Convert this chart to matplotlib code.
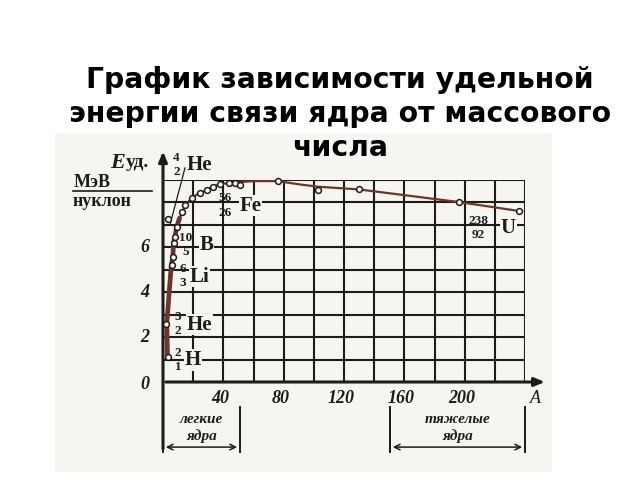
import numpy as np
import matplotlib
matplotlib.use("Agg")
import matplotlib.pyplot as plt
from matplotlib.patches import Rectangle

# curve (mass number A, energy per nucleon, MeV)
curve_A = [3, 2.5, 5.5, 6.5, 7, 8, 9, 11, 13, 15, 19, 24, 29, 33, 38, 44, 49, 60, 76, 91, 103, 130, 196, 236]
curve_E = [1.1, 2.6, 5.2, 5.55, 6.2, 6.5, 6.9, 7.3, 7.6, 7.9, 8.2, 8.42, 8.55, 8.7, 8.82, 8.87, 8.9, 8.95, 8.95, 8.8, 8.7, 8.58, 8.02, 7.62]

# measured points (open circles)
pts_A = [3, 2.2, 3.5, 6, 6.6, 7.2, 8, 9.3, 12.6, 14.6, 19, 24.5, 29, 33, 38, 44, 48, 51, 76, 103, 130, 196, 236]
pts_E = [1.1, 2.6, 7.25, 5.2, 5.57, 6.2, 6.46, 6.9, 7.58, 7.9, 8.2, 8.42, 8.55, 8.7, 8.82, 8.87, 8.87, 8.78, 8.96, 8.56, 8.6, 8.02, 7.62]

xtick_vals = [40, 80, 120, 160, 200]
ytick_vals = [0, 2, 4, 6]

# nuclide labels: (mass, charge, symbol, A of numbers, A of symbol, E)
nuclides = [
    ("4", "2", "He", 9, 24, 9.67),
    ("56", "26", "Fe", 41, 58, 7.85),
    ("10", "5", "B", 15, 29, 6.1),
    ("6", "3", "Li", 13, 24, 4.7),
    ("3", "2", "He", 10, 24, 2.55),
    ("2", "1", "H", 10, 20, 0.98),
    ("238", "92", "U", 209, 229, 6.85),
]

title_lines = ["График зависимости удельной", "энергии связи ядра от массового", "числа"]

ink = "#1e1c1a"
curve_col = "#6e3528"
paper = "#f6f5ef"
serif = "Liberation Serif"

fig = plt.figure(figsize=(6.4, 4.8), dpi=100)
fig.patch.set_facecolor("white")

# the scanned picture area
bgax = fig.add_axes([0, 0, 1, 1], zorder=-10)
bgax.set_xlim(0, 640)
bgax.set_ylim(480, 0)
bgax.axis("off")
bgax.add_patch(Rectangle((55, 133), 497, 339, facecolor=paper, edgecolor="none"))

ax = fig.add_axes([163 / 640, 98 / 480, 362 / 640, 202 / 480], zorder=0)
ax.set_xlim(0, 240)
ax.set_ylim(0, 9)
ax.set_facecolor("none")
for s in ax.spines.values():
    s.set_visible(False)
ax.set_xticks([])
ax.set_yticks([])

# grid
ax.vlines(np.arange(20, 241, 20), 0, 9, color=ink, lw=1.5, zorder=1)
ax.hlines(np.arange(1, 10, 1), 0, 240, color=ink, lw=1.5, zorder=1)

# axes with arrows
ax.annotate("", xy=(0, 10.4), xytext=(0, -3.1), xycoords="data",
            arrowprops=dict(arrowstyle="-|>,head_width=0.25,head_length=0.6", color=ink, lw=2.2),
            annotation_clip=False)
ax.annotate("", xy=(255, 0), xytext=(0, 0), xycoords="data",
            arrowprops=dict(arrowstyle="-|>,head_width=0.25,head_length=0.6", color=ink, lw=2.2),
            annotation_clip=False)

# curve
ax.plot(curve_A[:8], curve_E[:8], color=curve_col, lw=3.4, zorder=3, solid_capstyle="round")
ax.plot(curve_A[7:], curve_E[7:], color=curve_col, lw=1.6, zorder=3)
ax.plot(pts_A, pts_E, "o", ms=4.2, mfc="white", mec=ink, mew=1.1, ls="none", zorder=4, clip_on=False)

# pointer from the He-4 label
ax.plot([14.6, 4.6], [9.54, 7.0], color=ink, lw=0.9, zorder=3, clip_on=False)

bg = dict(facecolor=paper, edgecolor="none", pad=0.5)
for mass, charge, sym, a_num, a_sym, e in nuclides:
    ax.text(a_sym, e, sym, fontsize=15, family=serif, fontweight="bold", color=ink,
            ha="center", va="center", zorder=5, bbox=bg, clip_on=False)
    ax.text(a_num, e + 0.33, mass, fontsize=9.5, family=serif, fontweight="bold", color=ink,
            ha="center", va="center", zorder=5, clip_on=False)
    ax.text(a_num, e - 0.3, charge, fontsize=9.5, family=serif, fontweight="bold", color=ink,
            ha="center", va="center", zorder=5, clip_on=False)

# tick labels
for v in ytick_vals:
    ax.text(-12, v - (0.12 if v == 0 else 0), str(v), fontsize=13, family=serif,
            fontweight="bold", style="italic", ha="center", va="center", color=ink, clip_on=False)
for v in xtick_vals:
    ax.text(v - 2, -0.72, str(v), fontsize=13, family=serif,
            fontweight="bold", style="italic", ha="center", va="center", color=ink, clip_on=False)
ax.text(247, -0.72, "A", fontsize=13, family=serif, style="italic",
        ha="center", va="center", color=ink, clip_on=False)

# y axis caption
ax.text(-25, 9.76, "E", fontsize=16, family=serif, fontweight="bold",
        style="italic", ha="right", va="center", color=ink, clip_on=False)
ax.text(-25, 9.76, "уд.", fontsize=14, family=serif, fontweight="bold",
        ha="left", va="center", color=ink, clip_on=False)
ax.text(-59, 8.87, "МэВ", fontsize=13, family=serif, fontweight="bold",
        ha="left", va="center", color=ink, clip_on=False)
ax.plot([-60, -7], [8.51, 8.51], color=ink, lw=1.2, clip_on=False)
ax.text(-60, 8.02, "нуклон", fontsize=13, family=serif, fontweight="bold",
        ha="left", va="center", color=ink, clip_on=False)

# light / heavy nuclei brackets
for a0, a1, word in [(0, 51, "легкие"), (150.5, 240, "тяжелые")]:
    ax.plot([a0, a0], [-1.1, -3.1], color=ink, lw=1.4, clip_on=False)
    ax.plot([a1, a1], [-1.1, -3.1], color=ink, lw=1.4, clip_on=False)
    ax.annotate("", xy=(a0, -2.9), xytext=(a1, -2.9),
                arrowprops=dict(arrowstyle="<->", color=ink, lw=1.1), annotation_clip=False)
    mid = (a0 + a1) / 2
    ax.text(mid, -1.69, word, fontsize=11, family=serif, style="italic", fontweight="bold",
            ha="center", va="center", color=ink, clip_on=False)
    ax.text(mid, -2.42, "ядра", fontsize=11, family=serif, style="italic", fontweight="bold",
            ha="center", va="center", color=ink, clip_on=False)

# title on top of everything
tax = fig.add_axes([0, 0, 1, 1], zorder=10)
tax.axis("off")
for i, line in enumerate(title_lines):
    tax.text(0.531, 1 - (80 + 34 * i) / 480, line, ha="center", va="center",
             fontsize=20.3, fontweight="bold", family="DejaVu Sans", color="black")

fig.savefig("out.png", dpi=100)
